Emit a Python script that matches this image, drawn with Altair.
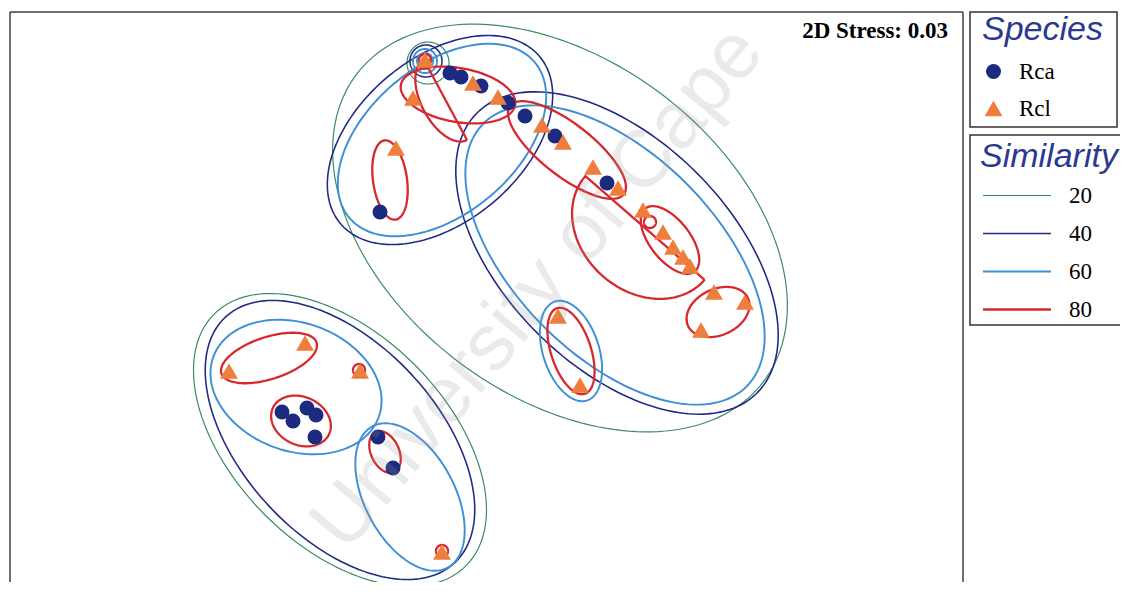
import altair as alt
import numpy as np
import pandas as pd

# ---------------- data (pixel-like ordination space) ----------------
rca_x = [450, 461, 481, 508, 525, 555, 607, 380, 282, 293, 307, 316, 315, 378, 393]
rca_y = [73, 77, 86, 103, 116, 136, 183, 212, 412, 421, 408, 415, 437, 437, 468]

rcl_x = [425, 473, 498, 413, 542, 563, 593, 618, 643, 663, 673, 683, 690, 714, 745, 701,
         396, 558, 580, 229, 305, 360, 442]
rcl_y = [60, 83, 97, 98, 125, 142, 167, 188, 210, 232, 247, 257, 266, 292, 302, 330,
         148, 316, 385, 371, 343, 371, 552]

# similarity contours: level, centre x, centre y, semi-axis a, semi-axis b, angle (deg), closed/half
c_level = ["20", "20", "20",
           "40", "40", "40", "40",
           "60", "60", "60", "60", "60", "60", "60",
           "80", "80", "80", "80", "80", "80", "80", "80", "80", "80", "80",
           "80", "80", "80", "80"]
c_cx = [560, 340, 428,
        440, 617, 340, 426,
        442, 615, 296, 410, 571, 425, 425,
        269, 301, 385, 571, 718, 645, 670, 567, 458, 390, 445.5,
        425, 359, 442, 650]
c_cy = [228, 440, 63,
        140, 253, 440, 61,
        140, 255, 387, 497, 351, 61, 61,
        358, 421, 452, 351, 312, 228, 240, 150, 95, 180, 100,
        60, 370, 551, 222]
c_a = [255, 178, 21,
       130, 198, 168, 16,
       121, 186, 88, 80, 52, 12, 8,
       50, 31, 22, 45, 33, 79, 40, 72, 58, 40, 45.4,
       6, 6, 6, 6]
c_b = [168, 106, 21,
       82, 113, 97, 16,
       74, 101, 64, 45, 28, 12, 8,
       21, 24, 14, 20, 23, 64, 20, 26, 27, 17, 24,
       6, 6, 6, 6]
c_ang = [37, 45, 0,
         -40, 45, 47, 0,
         -40, 45, 20, 62, 72, 0, 0,
         -18, 25, 65, 72, -25, 41, 52, 38, 10, 82, 61.7,
         0, 0, 0, 0]
c_half = [False] * 19 + [True, False, False, False, False, True, False, False, False, False]

levels = ["20", "40", "60", "80"]
level_colors = ["#3d8a66", "#1f2a86", "#3e8fd5", "#d6282e"]
level_widths = [1.2, 2.3, 1.5, 2.0]

species = ["Rca", "Rcl"]
species_colors = ["#1c2a80", "#ef7d3b"]

stress_text = ["2D Stress: 0.03"]
watermark = ["University of Cape"]

# ---------------- build tables ----------------
rows = []
for i in range(len(c_level)):
    th = np.radians(c_ang[i])
    if c_half[i]:
        t = np.linspace(0, np.pi, 91)
        t = np.append(t, 0.0)
    else:
        t = np.linspace(0, 2 * np.pi, 181)
    xs = c_cx[i] + c_a[i] * np.cos(t) * np.cos(th) - c_b[i] * np.sin(t) * np.sin(th)
    ys = c_cy[i] + c_a[i] * np.cos(t) * np.sin(th) + c_b[i] * np.sin(t) * np.cos(th)
    for k, (xx, yy) in enumerate(zip(xs, ys)):
        rows.append({"cid": f"c{i:02d}", "level": c_level[i], "x": float(xx), "y": float(yy), "o": k})
contours = pd.DataFrame(rows)

pts = pd.DataFrame({
    "x": rca_x + rcl_x,
    "y": rca_y + rcl_y,
    "species": ["Rca"] * len(rca_x) + ["Rcl"] * len(rcl_x),
})

W, H = 953, 570
xs_scale = alt.Scale(domain=[10, 963], nice=False, zero=False)
ys_scale = alt.Scale(domain=[12, 12 + H], reverse=True, nice=False, zero=False)

sim_legend = alt.Legend(orient="none", legendX=970, legendY=128, title="Similarity",
                        titleFont="Liberation Sans", titleFontStyle="italic",
                        titleFontWeight="normal", titleFontSize=34, titleColor="#2b3990",
                        titlePadding=10, labelFont="Liberation Serif", labelFontSize=23,
                        labelColor="black", labelOffset=66, symbolType="M-1,0H7",
                        symbolSize=289, symbolStrokeWidth=2.2, rowPadding=14, padding=0)

sp_legend = alt.Legend(orient="none", legendX=972, legendY=1, title="Species",
                       titleFont="Liberation Sans", titleFontStyle="italic",
                       titleFontWeight="normal", titleFontSize=34, titleColor="#2b3990",
                       titlePadding=13, labelFont="Liberation Serif", labelFontSize=23,
                       labelColor="black", labelOffset=14, symbolSize=220,
                       rowPadding=13, padding=0)

lines = alt.Chart(contours).mark_line(interpolate="linear").encode(
    x=alt.X("x:Q", scale=xs_scale, axis=None),
    y=alt.Y("y:Q", scale=ys_scale, axis=None),
    detail="cid:N",
    order="o:Q",
    color=alt.Color("level:N", scale=alt.Scale(domain=levels, range=level_colors), legend=sim_legend),
    strokeWidth=alt.StrokeWidth("level:N", scale=alt.Scale(domain=levels, range=level_widths), legend=None),
)

points = alt.Chart(pts).mark_point(filled=True, opacity=1).encode(
    x=alt.X("x:Q", scale=xs_scale, axis=None),
    y=alt.Y("y:Q", scale=ys_scale, axis=None),
    color=alt.Color("species:N", scale=alt.Scale(domain=species, range=species_colors), legend=sp_legend),
    shape=alt.Shape("species:N", scale=alt.Scale(domain=species, range=["circle", "triangle-up"]),
                    legend=sp_legend),
    size=alt.Size("species:N", scale=alt.Scale(domain=species, range=[225, 320]), legend=None),
)

wm = alt.Chart(pd.DataFrame({"x": [538], "y": [288], "t": watermark})).mark_text(
    angle=310, fontSize=80, font="Liberation Sans", color="#9a9a9a", opacity=0.2,
    align="center", baseline="middle"
).encode(x=alt.X("x:Q", scale=xs_scale, axis=None), y=alt.Y("y:Q", scale=ys_scale, axis=None), text="t:N")

stress = alt.Chart(pd.DataFrame({"x": [948], "y": [31], "t": stress_text})).mark_text(
    fontSize=23, font="Liberation Serif", fontWeight="bold", color="black", align="right", baseline="middle"
).encode(x=alt.X("x:Q", scale=xs_scale, axis=None), y=alt.Y("y:Q", scale=ys_scale, axis=None), text="t:N")

dummy = pd.DataFrame({"a": [0]})
frame_left = alt.Chart(dummy).mark_rule(color="#444", strokeWidth=1.5).encode(
    x=alt.value(0), y=alt.value(0), y2=alt.value(H))
frame_top = alt.Chart(dummy).mark_rule(color="#444", strokeWidth=1.5).encode(
    x=alt.value(0), x2=alt.value(W), y=alt.value(0))
frame_right = alt.Chart(dummy).mark_rule(color="#444", strokeWidth=1.5).encode(
    x=alt.value(W), y=alt.value(0), y2=alt.value(H))
box1 = alt.Chart(dummy).mark_rect(fillOpacity=0, stroke="#333", strokeWidth=1.5).encode(
    x=alt.value(960), x2=alt.value(1107), y=alt.value(0), y2=alt.value(115))
box2 = alt.Chart(dummy).mark_rect(fillOpacity=0, stroke="#333", strokeWidth=1.5).encode(
    x=alt.value(960), x2=alt.value(1130), y=alt.value(123), y2=alt.value(313))

chart = alt.layer(lines, points, wm, stress, frame_left, frame_top, frame_right, box1, box2).resolve_scale(
    color="independent", size="independent", shape="independent", strokeWidth="independent"
).resolve_legend(
    color="independent", shape="independent", size="independent", strokeWidth="independent"
).properties(
    width=W, height=H,
    autosize=alt.AutoSizeParams(type="none"),
    padding={"left": 2, "top": 4, "right": 157, "bottom": 0},
).configure_view(stroke=None).configure(background="white")

chart.save("out.html", embed_options={"renderer": "svg", "actions": False})
